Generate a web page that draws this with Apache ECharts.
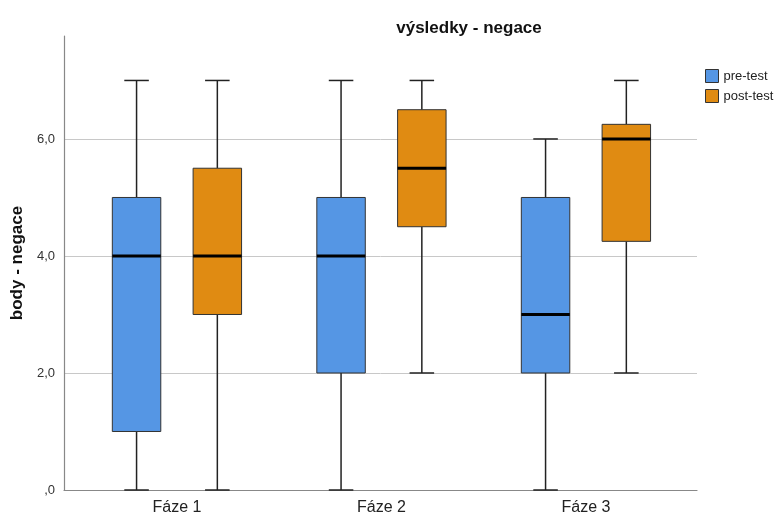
<!DOCTYPE html>
<html>
<head>
<meta charset="utf-8">
<script src="https://cdn.jsdelivr.net/npm/echarts@6/dist/echarts.min.js"></script>
<style>html,body{margin:0;padding:0;background:#fff;}#c{width:774px;height:516px;}</style>
</head>
<body>
<div id="c"></div>
<script>
const categories = ['Fáze 1', 'Fáze 2', 'Fáze 3'];
const seriesNames = ['pre-test', 'post-test'];
// [min, Q1, median, Q3, max]
const preTest = [[0, 1, 4, 5, 7], [0, 2, 4, 5, 7], [0, 2, 3, 5, 6]];
const postTest = [[0, 3, 4, 5.5, 7], [2, 4.5, 5.5, 6.5, 7], [2, 4.25, 6, 6.25, 7]];
const yTickValues = [0, 2, 4, 6];
const yTickLabels = [',0', '2,0', '4,0', '6,0'];
const titleText = 'výsledky - negace';
const yAxisName = 'body - negace';

const colors = ['#5596E4', '#E08B12'];
const FONT = '"Liberation Sans", Arial, sans-serif';
const Y_MAX = 7.76;

function makeRender(offsetFrac, color) {
  return function (params, api) {
    const cat = api.value(0);
    const band = api.size([1, 0], [cat, 0])[0];
    const cx = api.coord([cat, 0])[0] + offsetFrac * band;
    const y = k => api.coord([cat, api.value(k)])[1];
    const yMin = y(1), yQ1 = y(2), yMed = y(3), yQ3 = y(4), yMax = y(5);
    const bw = 0.237 * band, cw = 0.12 * band;
    const ws = { stroke: '#222', lineWidth: 1.5 };
    return {
      type: 'group',
      children: [
        { type: 'line', shape: { x1: cx, y1: yMin, x2: cx, y2: yQ1 }, style: ws },
        { type: 'line', shape: { x1: cx, y1: yQ3, x2: cx, y2: yMax }, style: ws },
        { type: 'line', shape: { x1: cx - cw / 2, y1: yMin, x2: cx + cw / 2, y2: yMin }, style: ws },
        { type: 'line', shape: { x1: cx - cw / 2, y1: yMax, x2: cx + cw / 2, y2: yMax }, style: ws },
        { type: 'rect', shape: { x: cx - bw / 2, y: yQ3, width: bw, height: yQ1 - yQ3 },
          style: { fill: color, stroke: '#333', lineWidth: 1 } },
        { type: 'line', shape: { x1: cx - bw / 2, y1: yMed, x2: cx + bw / 2, y2: yMed },
          style: { stroke: '#000', lineWidth: 3 } }
      ]
    };
  };
}

const chart = echarts.init(document.getElementById('c'), null, { renderer: 'canvas' });
chart.setOption({
  animation: false,
  backgroundColor: '#fff',
  title: {
    text: titleText,
    left: 464, top: 15,
    textAlign: 'center',
    textStyle: { fontFamily: FONT, fontSize: 17, fontWeight: 'bold', color: '#111' }
  },
  legend: {
    orient: 'vertical',
    left: 700, top: 64,
    itemWidth: 13, itemHeight: 13, itemGap: 6,
    textStyle: { fontFamily: FONT, fontSize: 13, color: '#222' },
    data: seriesNames.map((n, i) => ({
      name: n, icon: 'rect',
      itemStyle: { color: colors[i], borderColor: '#333', borderWidth: 1 }
    }))
  },
  grid: [
    { left: 64, right: 77, top: 36, bottom: 26 },
    { left: 74.7, right: 85.8, top: 36, bottom: 26 }
  ],
  xAxis: [
    { gridIndex: 0, type: 'value', min: 0, max: 1,
      axisLine: { show: true, lineStyle: { color: '#888', width: 1.2 } },
      axisTick: { show: false }, axisLabel: { show: false }, splitLine: { show: false } },
    { gridIndex: 1, type: 'category', data: categories, boundaryGap: true,
      axisLine: { show: false }, axisTick: { show: false },
      axisLabel: { fontFamily: FONT, fontSize: 16, color: '#222', margin: 10 } }
  ],
  yAxis: [
    { gridIndex: 0, type: 'value', min: 0, max: Y_MAX, interval: 2,
      name: yAxisName, nameLocation: 'middle', nameRotate: 90, nameGap: 37,
      nameTextStyle: { fontFamily: FONT, fontSize: 17, fontWeight: 'bold', color: '#111' },
      axisLine: { show: true, lineStyle: { color: '#888', width: 1.2 } },
      axisTick: { show: false },
      axisLabel: {
        fontFamily: FONT, fontSize: 13, color: '#333', margin: 9, showMaxLabel: false,
        formatter: v => { const i = yTickValues.indexOf(v); return i >= 0 ? yTickLabels[i] : ''; }
      },
      splitLine: { show: true, showMinLine: false, showMaxLine: false, lineStyle: { color: '#c8c8c8', width: 1 } }
    },
    { gridIndex: 1, type: 'value', min: 0, max: Y_MAX, show: false, splitLine: { show: false } }
  ],
  series: [
    { name: seriesNames[0], type: 'custom', xAxisIndex: 1, yAxisIndex: 1,
      itemStyle: { color: colors[0] },
      encode: { x: 0, y: [1, 2, 3, 4, 5] },
      renderItem: makeRender(-0.1975, colors[0]),
      data: preTest.map((d, i) => [i].concat(d)) },
    { name: seriesNames[1], type: 'custom', xAxisIndex: 1, yAxisIndex: 1,
      itemStyle: { color: colors[1] },
      encode: { x: 0, y: [1, 2, 3, 4, 5] },
      renderItem: makeRender(0.1975, colors[1]),
      data: postTest.map((d, i) => [i].concat(d)) }
  ]
});
</script>
</body>
</html>
